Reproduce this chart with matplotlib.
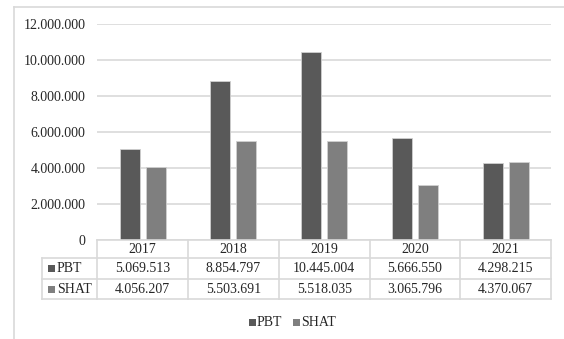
import matplotlib
matplotlib.use("Agg")
import matplotlib.pyplot as plt
from matplotlib.lines import Line2D
from matplotlib.patches import Rectangle
import matplotlib.transforms as mtransforms

years = ["2017", "2018", "2019", "2020", "2021"]
pbt = [5069513, 8854797, 10445004, 5666550, 4298215]
shat = [4056207, 5503691, 5518035, 3065796, 4370067]
series_names = ["PBT", "SHAT"]
yticks = [0, 2000000, 4000000, 6000000, 8000000, 10000000, 12000000]

colors = ["#595959", "#7f7f7f"]
grid_c = "#d9d9d9"
text_c = "#262626"

plt.rcParams["font.family"] = ["Liberation Serif", "DejaVu Serif"]

W, H = 564, 339
fig = plt.figure(figsize=(W / 100, H / 100), dpi=100)

def fx(px):
    return px / W

def fy(py):
    return 1 - py / H

def fmt(v):
    return f"{v:,}".replace(",", ".")

# outer chart frame (left and top edges)
fig.add_artist(Line2D([fx(13.5), fx(13.5)], [fy(7), fy(339)], color=grid_c, lw=1.2))
fig.add_artist(Line2D([fx(13.5), fx(564)], [fy(7), fy(7)], color=grid_c, lw=1.2))

left, right, top, bottom = 97.3, 551, 24.3, 240.3
ax = fig.add_axes([fx(left), fy(bottom), fx(right) - fx(left), fy(top) - fy(bottom)])
ax.set_xlim(-0.5, len(years) - 0.5)
ax.set_ylim(0, 12000000)
for s in ax.spines.values():
    s.set_visible(False)
fs = 10
ax.set_yticks(yticks)
ax.set_yticklabels([fmt(v) for v in yticks], fontsize=fs, color=text_c)
ax.tick_params(axis="y", length=0, pad=8.6)
ax.set_xticks([])
ax.yaxis.grid(True, color=grid_c, lw=1.2)
ax.set_axisbelow(True)

xs = list(range(len(years)))
bw = 0.22
off = 0.143
ax.bar([x - off for x in xs], pbt, width=bw, color=colors[0], edgecolor="#d0d0d0", lw=0.6, zorder=3)
ax.bar([x + off for x in xs], shat, width=bw, color=colors[1], edgecolor="#d0d0d0", lw=0.6, zorder=3)

# data table below the axis
tr = mtransforms.blended_transform_factory(ax.transData, fig.transFigure)
row_y = [240.3, 258, 279, 299.3]
line_kw = dict(color=grid_c, lw=1.2, clip_on=False)
tbl_left = fx(41.7)
fig.add_artist(Line2D([fx(left), fx(right)], [fy(row_y[0])] * 2, **line_kw))
for ry in row_y[1:]:
    fig.add_artist(Line2D([tbl_left, fx(right)], [fy(ry)] * 2, **line_kw))
fig.add_artist(Line2D([tbl_left, tbl_left], [fy(row_y[1]), fy(row_y[3])], **line_kw))
for i in range(len(years) + 1):
    ax.add_line(Line2D([i - 0.5, i - 0.5], [fy(row_y[0]), fy(row_y[3])], transform=tr, **line_kw))

for i, yr in enumerate(years):
    ax.text(i, fy((row_y[0] + row_y[1]) / 2), yr, transform=tr,
            ha="center", va="center", fontsize=fs, color=text_c)
    ax.text(i, fy((row_y[1] + row_y[2]) / 2), fmt(pbt[i]), transform=tr,
            ha="center", va="center", fontsize=fs, color=text_c)
    ax.text(i, fy((row_y[2] + row_y[3]) / 2), fmt(shat[i]), transform=tr,
            ha="center", va="center", fontsize=fs, color=text_c)

# series keys in the table
for k, name in enumerate(series_names):
    yc = (row_y[1 + k] + row_y[2 + k]) / 2
    fig.add_artist(Rectangle((fx(48), fy(yc + 3.5)), fx(7), fy(yc - 3.5) - fy(yc + 3.5),
                             color=colors[k], lw=0))
    fig.text(fx(57), fy(yc), name, ha="left", va="center", fontsize=fs, color=text_c)

# legend at the bottom
leg_y = 322
leg_items = [(248.5, 257), (293.3, 301)]
for k, name in enumerate(series_names):
    sx, tx = leg_items[k]
    fig.add_artist(Rectangle((fx(sx), fy(leg_y + 3.5)), fx(7), fy(leg_y - 3.5) - fy(leg_y + 3.5),
                             color=colors[k], lw=0))
    fig.text(fx(tx), fy(leg_y), name, ha="left", va="center", fontsize=fs, color=text_c)

fig.savefig("out.png", dpi=100, facecolor="white")
